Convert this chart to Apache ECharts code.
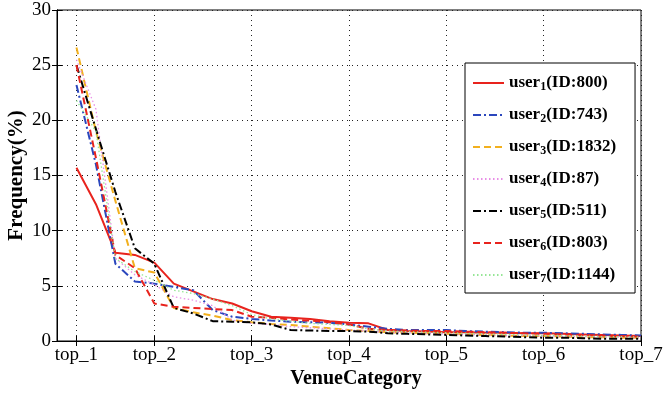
<!DOCTYPE html>
<html>
<head>
<meta charset="utf-8">
<script src="https://cdn.jsdelivr.net/npm/echarts@6/dist/echarts.min.js"></script>
<style>
  html, body { margin: 0; padding: 0; background: #fff; }
  #chart { width: 666px; height: 395px; }
</style>
</head>
<body>
<div id="chart"></div>
<script>
// x positions of the labelled ticks and their text
const tickRanks = [1, 5, 10, 15, 20, 25, 30]
const tickLabels = ['top_1', 'top_2', 'top_3', 'top_4', 'top_5', 'top_6', 'top_7']

const userIds = [800, 743, 1832, 87, 511, 803, 1144]

// frequency (%) per venue-category rank, rank 1..30
const user1 = [15.7, 12.4, 8.0, 7.8, 7.1, 5.2, 4.5, 3.8, 3.4, 2.7, 2.2, 2.1, 2.0, 1.8, 1.65, 1.6, 1.0, 0.9, 0.85, 0.8, 0.8, 0.75, 0.75, 0.7, 0.7, 0.65, 0.6, 0.55, 0.5, 0.45]
const user2 = [23.2, 16.0, 7.0, 5.4, 5.2, 4.9, 4.6, 2.8, 2.2, 2.0, 1.85, 1.75, 1.7, 1.65, 1.5, 1.3, 1.1, 1.0, 1.0, 1.0, 0.9, 0.85, 0.8, 0.75, 0.75, 0.7, 0.65, 0.6, 0.55, 0.5]
const user3 = [26.6, 19.0, 12.7, 6.6, 6.2, 3.0, 2.6, 2.3, 1.9, 1.7, 1.55, 1.45, 1.3, 1.15, 1.0, 0.9, 0.8, 0.75, 0.7, 0.65, 0.6, 0.55, 0.5, 0.45, 0.45, 0.4, 0.35, 0.35, 0.3, 0.3]
const user4 = [25.5, 21.0, 7.5, 6.0, 5.1, 4.0, 3.7, 3.2, 1.9, 1.6, 1.5, 1.3, 1.2, 1.1, 1.0, 0.9, 0.8, 0.75, 0.7, 0.65, 0.6, 0.55, 0.5, 0.5, 0.45, 0.4, 0.4, 0.35, 0.35, 0.3]
const user5 = [25.0, 19.2, 13.5, 8.4, 7.0, 3.0, 2.5, 1.8, 1.75, 1.7, 1.5, 1.0, 0.95, 0.9, 0.9, 0.85, 0.7, 0.65, 0.6, 0.55, 0.5, 0.45, 0.4, 0.35, 0.3, 0.3, 0.25, 0.2, 0.2, 0.2]
const user6 = [25.0, 16.6, 7.8, 6.6, 3.4, 3.1, 3.0, 2.9, 2.8, 2.2, 2.1, 1.95, 1.85, 1.7, 1.5, 1.1, 1.0, 0.95, 0.9, 0.9, 0.85, 0.8, 0.75, 0.7, 0.65, 0.6, 0.55, 0.5, 0.45, 0.4]
const user7 = [21.8, 19.0, 7.5, 6.3, 5.5, 4.6, 4.3, 3.8, 3.2, 2.4, 2.0, 1.8, 1.6, 1.5, 1.4, 1.1, 0.9, 0.85, 0.8, 0.75, 0.7, 0.65, 0.6, 0.55, 0.5, 0.5, 0.45, 0.4, 0.4, 0.35]

const allUsers = [user1, user2, user3, user4, user5, user6, user7]
const colors = ['#e8231d', '#2b47bd', '#f2b01e', '#e88ee6', '#000000', '#e8231d', '#96e696']
const dashes = ['solid', [8, 3, 2, 3], [7, 4], [1.5, 2.5], [8, 3, 2, 3], [7, 4], [1.5, 2.5]]
const widths = [2, 2, 2, 1.3, 2, 2, 1.3]

const serif = '"Liberation Serif", "DejaVu Serif", serif'
const names = userIds.map((id, i) => 'user' + (i + 1) + '(ID:' + id + ')')

const chart = echarts.init(document.getElementById('chart'))

const series = allUsers.map((vals, i) => ({
  name: names[i],
  type: 'line',
  data: vals.map((v, k) => [k + 1, v]),
  showSymbol: false,
  symbol: 'none',
  animation: false,
  lineStyle: { color: colors[i], type: dashes[i], width: widths[i] },
  itemStyle: { color: colors[i] },
}))

const dotted = { color: '#222', type: [1, 4], width: 1 }

chart.setOption({
  animation: false,
  grid: {
    left: 57,
    right: 25,
    top: 10,
    bottom: 54,
    outerBoundsMode: 'none',
    show: true,
    borderColor: '#000',
    borderWidth: 1,
  },
  legend: {
    orient: 'vertical',
    left: 465,
    top: 63,
    padding: [10, 19, 8, 7],
    itemWidth: 31,
    itemHeight: 14,
    itemGap: 12,
    backgroundColor: '#fff',
    borderColor: '#000',
    borderWidth: 1,
    itemStyle: { opacity: 0 },
    data: names,
    formatter: (name) => {
      const i = names.indexOf(name)
      return '{b|user}{s|' + (i + 1) + '}{b|(ID:' + userIds[i] + ')}'
    },
    textStyle: {
      rich: {
        b: { fontFamily: serif, fontWeight: 'bold', fontSize: 17, color: '#000', lineHeight: 20 },
        s: { fontFamily: serif, fontWeight: 'bold', fontSize: 12, color: '#000', lineHeight: 20, verticalAlign: 'bottom', padding: [8, 0, 0, 0] },
      },
    },
  },
  xAxis: [
    {
      type: 'value',
      min: 0,
      max: 30,
      name: 'VenueCategory',
      nameLocation: 'middle',
      nameGap: 28,
      nameMoveOverlap: false,
      nameTextStyle: { fontFamily: serif, fontWeight: 'bold', fontSize: 20, color: '#000', padding: [0, 0, 0, 14] },
      axisLine: { lineStyle: { color: '#000', width: 1 } },
      axisTick: { inside: true, length: 5, customValues: tickRanks, lineStyle: { color: '#000' } },
      axisLabel: {
        customValues: tickRanks,
        margin: 5,
        fontFamily: serif,
        fontSize: 19,
        color: '#000',
        formatter: (v) => tickLabels[tickRanks.indexOf(v)],
      },
      splitLine: { show: true, lineStyle: dotted },
    },
    {
      type: 'value',
      position: 'top',
      min: 0,
      max: 30,
      axisLine: { lineStyle: { color: '#000' } },
      axisTick: { inside: true, length: 5, customValues: tickRanks, lineStyle: { color: '#000' } },
      axisLabel: { show: false },
      splitLine: { show: false },
    },
  ],
  yAxis: [
    {
      type: 'value',
      min: 0,
      max: 30,
      interval: 5,
      name: 'Frequency(%)',
      nameLocation: 'middle',
      nameGap: 30,
      nameMoveOverlap: false,
      nameTextStyle: { fontFamily: serif, fontWeight: 'bold', fontSize: 21, color: '#000' },
      axisLine: { show: true, lineStyle: { color: '#000', width: 1 } },
      axisTick: { show: true, inside: true, length: 5, lineStyle: { color: '#000' } },
      axisLabel: { margin: 6, fontFamily: serif, fontSize: 19, color: '#000' },
      splitLine: { show: true, lineStyle: dotted },
    },
    {
      type: 'value',
      position: 'right',
      min: 0,
      max: 30,
      interval: 5,
      axisLine: { show: true, lineStyle: { color: '#000' } },
      axisTick: { show: true, inside: true, length: 5, lineStyle: { color: '#000' } },
      axisLabel: { show: false },
      splitLine: { show: false },
    },
  ],
  series: series,
})
</script>
</body>
</html>
